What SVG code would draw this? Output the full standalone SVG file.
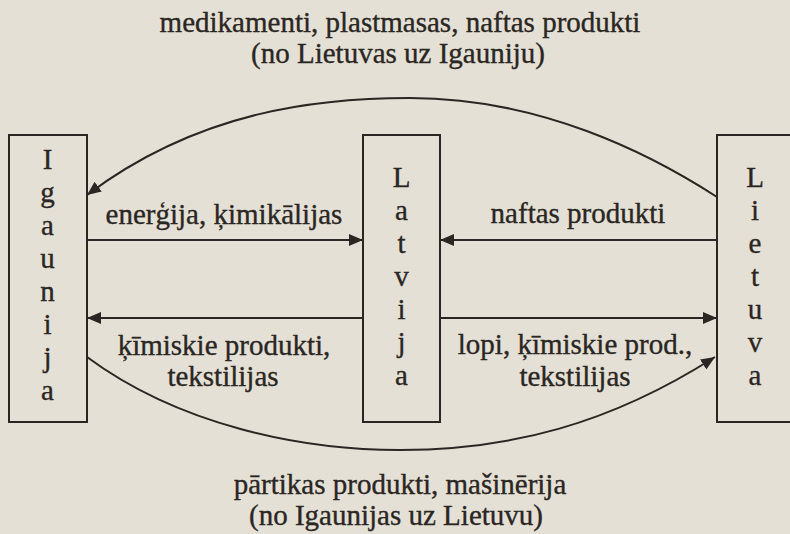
<svg xmlns="http://www.w3.org/2000/svg" width="790" height="534" viewBox="0 0 790 534">
  <style>
    text { font-family: "Liberation Serif", "Times New Roman", serif; font-size: 29px; fill: #2a2623; stroke: #2a2623; stroke-width: 0.35; }
    .mid { text-anchor: middle; }
    .box { fill: none; stroke: #2a2623; stroke-width: 2; }
    .conn { fill: none; stroke: #2a2623; stroke-width: 2; }
  </style>
  <defs>
    <marker id="arrow" markerUnits="userSpaceOnUse" markerWidth="16" markerHeight="14" refX="14" refY="6" orient="auto">
      <path d="M0,0 L14,6 L0,12 Z" fill="#2a2623"/>
    </marker>
  </defs>
  <rect x="0" y="0" width="790" height="534" fill="#e4e0d5"/>

  <g id="node-igaunija">
    <rect class="box" x="9" y="135" width="78" height="287"/>
    <text class="mid" x="47.5" y="169">
      <tspan x="47.5">I</tspan><tspan x="47.5" dy="33">g</tspan><tspan x="47.5" dy="33">a</tspan><tspan x="47.5" dy="33">u</tspan><tspan x="47.5" dy="33">n</tspan><tspan x="47.5" dy="33">i</tspan><tspan x="47.5" dy="33">j</tspan><tspan x="47.5" dy="33">a</tspan>
    </text>
  </g>

  <g id="node-latvija">
    <rect class="box" x="363" y="135" width="77" height="287"/>
    <text class="mid" x="401.5" y="187">
      <tspan x="401.5">L</tspan><tspan x="401.5" dy="33">a</tspan><tspan x="401.5" dy="33">t</tspan><tspan x="401.5" dy="33">v</tspan><tspan x="401.5" dy="33">i</tspan><tspan x="401.5" dy="33">j</tspan><tspan x="401.5" dy="33">a</tspan>
    </text>
  </g>

  <g id="node-lietuva">
    <rect class="box" x="717" y="135" width="80" height="287"/>
    <text class="mid" x="755" y="187">
      <tspan x="755">L</tspan><tspan x="755" dy="33">i</tspan><tspan x="755" dy="33">e</tspan><tspan x="755" dy="33">t</tspan><tspan x="755" dy="33">u</tspan><tspan x="755" dy="33">v</tspan><tspan x="755" dy="33">a</tspan>
    </text>
  </g>

  <g id="connectors">
    <path class="conn" d="M717,197 C649,153 540,98 410,98 C320,98 200,110 87,195" marker-end="url(#arrow)"/>
    <path class="conn" d="M87,240 L363,240" marker-end="url(#arrow)"/>
    <path class="conn" d="M717,240 L440,240" marker-end="url(#arrow)"/>
    <path class="conn" d="M363,318 L87,318" marker-end="url(#arrow)"/>
    <path class="conn" d="M440,318 L717,318" marker-end="url(#arrow)"/>
    <path class="conn" d="M87,357 C179,425 300,450 400,450 C510,450 610,424 715,357" marker-end="url(#arrow)"/>
  </g>

  <g id="labels">
    <text class="mid" x="400" y="32">medikamenti, plastmasas, naftas produkti</text>
    <text class="mid" x="398" y="63">(no Lietuvas uz Igauniju)</text>
    <text class="mid" x="224" y="224">enerģija, ķimikālijas</text>
    <text class="mid" x="578" y="223">naftas produkti</text>
    <text class="mid" x="224" y="355">ķīmiskie produkti,</text>
    <text class="mid" x="223" y="386">tekstilijas</text>
    <text class="mid" x="575" y="354">lopi, ķīmiskie prod.,</text>
    <text class="mid" x="575" y="386">tekstilijas</text>
    <text class="mid" x="400" y="494">pārtikas produkti, mašinērija</text>
    <text class="mid" x="396" y="525">(no Igaunijas uz Lietuvu)</text>
  </g>
</svg>
